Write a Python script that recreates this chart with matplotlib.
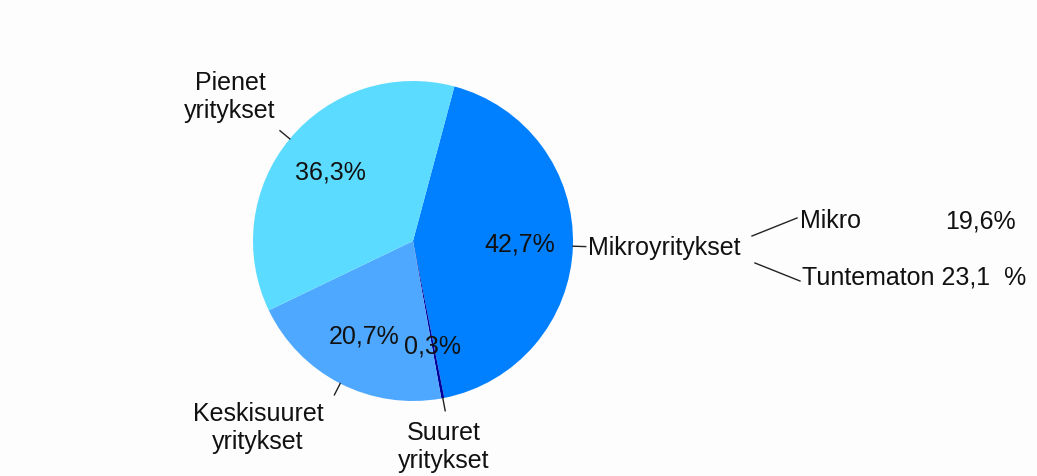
import numpy as np
import matplotlib
matplotlib.use("Agg")
import matplotlib.pyplot as plt

plt.rcParams['font.family'] = ['Liberation Sans', 'DejaVu Sans']

# Data
labels = ['Mikroyritykset', 'Suuret\nyritykset', 'Keskisuuret\nyritykset', 'Pienet\nyritykset']
values = [42.7, 0.3, 20.7, 36.3]
colors = ['#0080FF', '#00009C', '#4FA8FF', '#5BDBFF']
sub_labels = ['Mikro', 'Tuntematon 23,1  %']
sub_values = ['19,6%', '']

W, H = 1037, 476
fig = plt.figure(figsize=(W / 100, H / 100), dpi=100, facecolor='#FDFDFD')
ax = fig.add_axes([0, 0, 1, 1])
ax.set_xlim(0, W)
ax.set_ylim(0, H)
ax.set_aspect('equal')
ax.axis('off')

cx, cy, r = 413, H - 241, 160
wedges, texts, autotexts = ax.pie(
    values, colors=colors, startangle=75, counterclock=False,
    center=(cx, cy), radius=r, pctdistance=0.67,
    autopct=lambda p: f'{p:.1f}%'.replace('.', ','),
    textprops=dict(fontsize=18, color='#111111'),
    wedgeprops=dict(linewidth=0), frame=True)
ax.set_xlim(0, W)
ax.set_ylim(0, H)
ax.axis('off')

# leader lines from wedge edge
for w in wedges:
    a = np.deg2rad((w.theta1 + w.theta2) / 2)
    x0, y0 = cx + r * np.cos(a), cy + r * np.sin(a)
    x1, y1 = cx + r * 1.08 * np.cos(a), cy + r * 1.08 * np.sin(a)
    ax.plot([x0, x1], [y0, y1], color='#222222', lw=1)

# outer labels
pos = [(588, H - 248, 'left'), (444, H - 447, 'center'),
       (258, H - 428, 'center'), (230, H - 97, 'center')]
for lab, (x, y, ha) in zip(labels, pos):
    ax.text(x, y, lab, fontsize=18, ha=ha, va='center', color='#111111',
            linespacing=1.2)

# breakdown of Mikroyritykset
ax.plot([752, 797], [H - 236, H - 218], color='#222222', lw=1)
ax.plot([755, 800], [H - 263, H - 281], color='#222222', lw=1)
ax.text(800, H - 221, sub_labels[0], fontsize=18, ha='left', va='center', color='#111111')
ax.text(1016, H - 221, sub_values[0], fontsize=18, ha='right', va='center', color='#111111')
ax.text(802, H - 278, sub_labels[1], fontsize=18, ha='left', va='center', color='#111111')

fig.savefig('out.png', dpi=100, facecolor=fig.get_facecolor())
